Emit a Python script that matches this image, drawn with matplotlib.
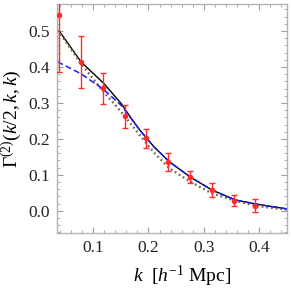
import numpy as np
import matplotlib
matplotlib.use("Agg")
import matplotlib.pyplot as plt
from matplotlib.ticker import MultipleLocator

plt.rcParams['font.family'] = ['Liberation Serif', 'DejaVu Serif']
plt.rcParams['mathtext.fontset'] = 'custom'
plt.rcParams['mathtext.rm'] = 'Liberation Serif'
plt.rcParams['mathtext.it'] = 'Liberation Serif:italic'

# simulation points with error bars
k_data = [0.0393, 0.0786, 0.1179, 0.1572, 0.1965, 0.2358, 0.2751, 0.3144, 0.3537, 0.393]
g_data = [0.544, 0.413, 0.341, 0.263, 0.202, 0.136, 0.094, 0.0575, 0.028, 0.014]
g_err = [0.159, 0.072, 0.043, 0.032, 0.026, 0.025, 0.017, 0.020, 0.016, 0.018]

# theory curves
k_th = [0.0355, 0.039, 0.0785, 0.1196, 0.151, 0.169, 0.1846, 0.21, 0.238, 0.2755, 0.315, 0.357, 0.397, 0.451]
g_solid = [0.5, 0.5, 0.414, 0.354, 0.298, 0.257, 0.224, 0.178, 0.136, 0.094, 0.0575, 0.030, 0.018, 0.005]
g_dotted = [0.5, 0.497, 0.409, 0.330, 0.275, 0.240, 0.210, 0.162, 0.118, 0.081, 0.048, 0.028, 0.013, 0.003]
g_dashed = [0.414, 0.412, 0.381, 0.337, 0.293, 0.256, 0.224, 0.178, 0.136, 0.094, 0.0575, 0.030, 0.018, 0.005]

fig = plt.figure(figsize=(2.91, 2.91), dpi=100)
ax = fig.add_axes([0.196, 0.199, 0.790, 0.787])

ax.plot(k_th, g_solid, color='black', lw=1.0)
ax.plot(k_th, g_dotted, color='#7a5c3c', lw=1.7, ls=(0, (0.7, 1.3)))
ax.plot(k_th, g_dashed, color='#1a1aff', lw=1.1, ls=(0, (4, 2)))
ax.errorbar(k_data, g_data, yerr=g_err, fmt='o', color='#ff2a2a', ms=3,
            elinewidth=1.0, capsize=2.5, capthick=1.0, zorder=5)

ax.set_xlim(0.035, 0.45)
ax.set_ylim(-0.062, 0.575)
ax.xaxis.set_major_locator(MultipleLocator(0.1))
ax.xaxis.set_minor_locator(MultipleLocator(0.02))
ax.yaxis.set_major_locator(MultipleLocator(0.1))
ax.yaxis.set_minor_locator(MultipleLocator(0.02))
ax.xaxis.set_major_formatter(plt.FuncFormatter(lambda v, p: '%.1f' % v))
ax.yaxis.set_major_formatter(plt.FuncFormatter(lambda v, p: '%.1f' % v))

for s in ax.spines.values():
    s.set_color('#b4b4b4')
    s.set_linewidth(1.0)
ax.tick_params(which='both', direction='in', top=True, right=True,
               color='#a0a0a0', labelsize=12.5, labelcolor='#222222')
ax.tick_params(which='major', length=4, width=0.8, pad=5)
ax.tick_params(which='minor', length=2, width=0.6)

ax.set_xlabel(r'$k\ $ [$h^{-1}$ Mpc]', fontsize=14, labelpad=7)
ax.xaxis.set_label_coords(0.545, -0.135)
ax.set_ylabel(r'$\Gamma^{(2)}(k/2,k,k)$', fontsize=14, labelpad=3)

fig.savefig('out.png', dpi=100)
